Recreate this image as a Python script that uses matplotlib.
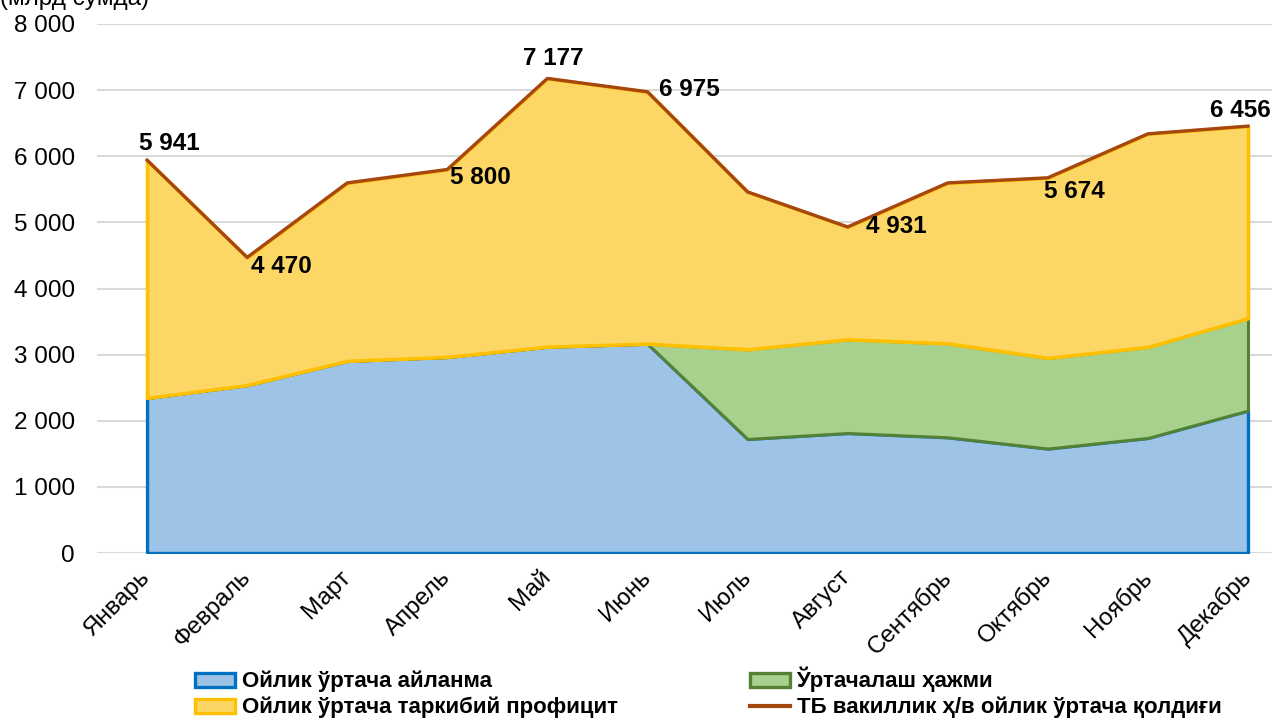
import matplotlib.pyplot as plt
from matplotlib.patches import Patch
from matplotlib.lines import Line2D

months = ['Январь', 'Февраль', 'Март', 'Апрель', 'Май', 'Июнь',
          'Июль', 'Август', 'Сентябрь', 'Октябрь', 'Ноябрь', 'Декабрь']
turnover = [2345, 2540, 2905, 2965, 3120, 3165, 1725, 1815, 1750, 1580, 1740, 2155]
netting = [0, 0, 0, 0, 0, 0, 1355, 1415, 1420, 1370, 1376, 1395]
surplus = [3596, 1930, 2692, 2835, 4057, 3810, 2381, 1701, 2427, 2724, 3223, 2906]
total = [5941, 4470, 5597, 5800, 7177, 6975, 5461, 4931, 5597, 5674, 6339, 6456]
labelled = [0, 1, 3, 4, 5, 7, 9, 11]

names = ['Ойлик ўртача айланма', 'Ойлик ўртача таркибий профицит',
         'Ўртачалаш ҳажми', 'ТБ вакиллик ҳ/в ойлик ўртача қолдиғи']

# label offsets in pixels (dx, dy) from the point
offsets = {0: (22, 17), 1: (34, -9), 3: (33, -8), 4: (6, 20), 5: (42, 2),
           7: (49, 0), 9: (27, -14), 11: (-8, 16)}

plt.rcParams['font.family'] = ['Liberation Sans', 'DejaVu Sans']

fig = plt.figure(figsize=(12.72, 7.18), dpi=100)
ax = fig.add_axes([97 / 1272, 165 / 718, 1175 / 1272, 529 / 718])

x = list(range(len(months)))
lvl1 = turnover
lvl2 = [a + b for a, b in zip(turnover, netting)]

ax.fill_between(x, 0, lvl1, facecolor='#9DC3E6', edgecolor='#0070C0', linewidth=2.4, zorder=2)
ax.fill_between(x, lvl1, lvl2, facecolor='#A9D18E', edgecolor='#548235', linewidth=2.2, zorder=3)
ax.fill_between(x, lvl2, total, facecolor='#FDD766', edgecolor='#FFC000', linewidth=2.6, zorder=4)
ax.plot(x, total, color='#A5470F', linewidth=2.4, zorder=5)

for i in labelled:
    dx, dy = offsets[i]
    ax.annotate(f'{total[i]:,}'.replace(',', ' '), (x[i], total[i]),
                xytext=(dx, dy), textcoords='offset pixels',
                ha='center', va='center', fontsize=17.5, fontweight='bold', zorder=6)

ax.set_xlim(-0.5, 11.24)
ax.set_ylim(0, 8000)
ax.set_yticks(range(0, 8001, 1000))
ax.set_yticklabels([f'{v:,}'.replace(',', ' ') for v in range(0, 8001, 1000)], fontsize=17.5)
ax.set_xticks(x)
ax.set_xticklabels(months, fontsize=17.5, rotation=45, ha='right', va='center',
                   rotation_mode='anchor')
ax.tick_params(axis='y', length=0, pad=16)
ax.tick_params(axis='x', length=0, pad=15)
ax.grid(axis='y', color='#D9D9D9', linewidth=1.5, zorder=0)
ax.set_axisbelow(True)
for s in ax.spines.values():
    s.set_visible(False)

fig.text(0.0, 1 - 5 / 718, '(млрд сўмда)', fontsize=17.5, va='baseline', ha='left')

handles = [
    Patch(facecolor='#9DC3E6', edgecolor='#0070C0', linewidth=2.4),
    Patch(facecolor='#FDD766', edgecolor='#FFC000', linewidth=2.4),
    Patch(facecolor='#A9D18E', edgecolor='#548235', linewidth=2.4),
    Line2D([], [], color='#A5470F', linewidth=3),
]
fig.legend(handles, names, ncol=2, loc='upper left', bbox_to_anchor=(195 / 1272, 1 - 667 / 718),
           frameon=False, prop={'weight': 'bold', 'size': 16},
           handlelength=1.8, handleheight=0.6, handletextpad=0.3, columnspacing=5.95,
           labelspacing=0.2, borderpad=0, borderaxespad=0)

fig.savefig('out.png', dpi=100)
